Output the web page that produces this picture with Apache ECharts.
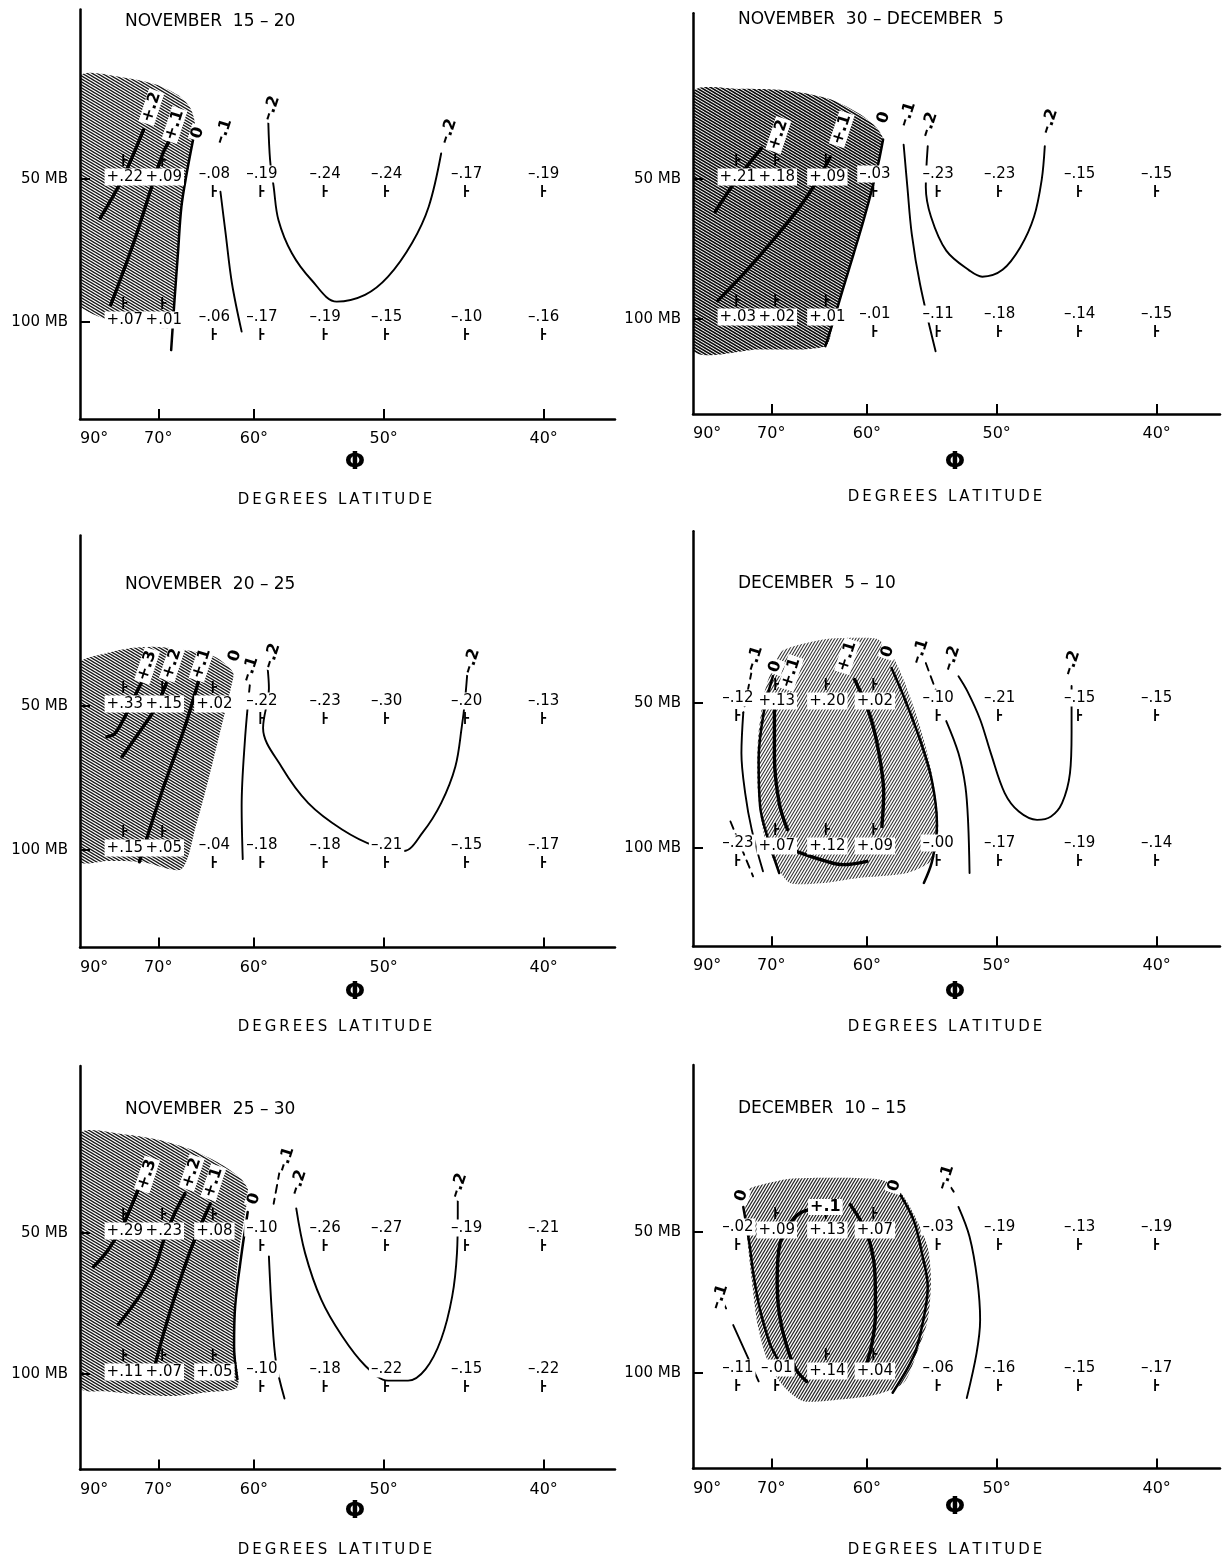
<!DOCTYPE html>
<html>
<head>
<meta charset="utf-8">
<script src="https://cdn.jsdelivr.net/npm/echarts@6/dist/echarts.min.js"></script>
<style>
  html, body { margin: 0; padding: 0; background: #fff; }
  #chart { width: 1229px; height: 1563px; }
</style>
</head>
<body>
<div id="chart"></div>
<script>
// ---- station grid ----------------------------------------------------------
const stationLat = [74.9, 69.3, 63.7, 59.3, 54.2, 49.8, 44.6, 40.0];
const levels = [50, 100];               // MB
const tickLat = [90, 70, 60, 50, 40];   // labelled latitudes

const titles = [
  'NOVEMBER  15 – 20',
  'NOVEMBER  30 – DECEMBER  5',
  'NOVEMBER  20 – 25',
  'DECEMBER  5 – 10',
  'NOVEMBER  25 – 30',
  'DECEMBER  10 – 15'
];

// ---- NOVEMBER 15-20 --------------------------------------------------------
const nov15At50  = [0.22, 0.09, -0.08, -0.19, -0.24, -0.24, -0.17, -0.19];
const nov15At100 = [0.07, 0.01, -0.06, -0.17, -0.19, -0.15, -0.10, -0.16];
const nov15Shade = [[90,30.5],[74.9,30.6],[70.1,31.7],[67.6,33.3],[66.25,35.3],[65.7,38.2],[65.9,41.3],[66.6,48.6],[67.2,57.2],[67.6,71.7],[68.0,89.9],[68.2,100],[68.8,103.1],[72.2,101.5],[78.1,99],[83.6,95.2],[90,92.1]];
const nov15Iso = [
  { lv: 0.2,  pts: [[79.9,60.5],[75.4,50.2],[72.0,39.4]] },
  { lv: 0.1,  pts: [[77.5,92.1],[73.5,68.3],[70.7,51],[69.4,44.1],[68.4,41]] },
  { lv: 0,    pts: [[65.9,41.3],[66.6,48.6],[67.2,57.2],[67.6,71.7],[68.0,89.9],[68.4,114.6]] },
  { lv: -0.1, pts: [[63.1,53.2],[62.6,65.1],[62.0,82.9],[61.1,104.8]] },
  { lv: -0.2, pts: [[58.75,38.1],[58.6,45.6],[58.3,51.9],[57.9,61.0],[56.8,71.7],[55.25,81.6],[53.35,90.6],[51.3,87.7],[49.7,80.3],[48.1,68.3],[47.0,57.2],[46.2,44.2]] }
];
const nov15IsoLabels = [
  { text: '+.2', at: [70.9,35.3] }, { text: '+.1', at: [68.0,38.5] }, { text: '0', at: [65.4,40.0] },
  { text: '–.1', at: [62.8,39.7] }, { text: '–.2', at: [58.5,35.5] }, { text: '–.2', at: [45.75,39.7] }
];

// ---- NOVEMBER 30 - DECEMBER 5 ---------------------------------------------
const nov30At50  = [0.21, 0.18, 0.09, -0.03, -0.23, -0.23, -0.15, -0.15];
const nov30At100 = [0.03, 0.02, 0.01, -0.01, -0.11, -0.18, -0.14, -0.15];
const nov30Shade = [[90,32.6],[74.6,32.0],[67.8,32.3],[63.4,33.7],[60.6,36.3],[59.15,38.8],[58.6,41.1],[59.0,46.2],[59.5,52],[60.3,61.4],[61.2,72.5],[62.15,85.6],[63.1,101],[63.9,114.4],[71.9,116.3],[90,116.3]];
const nov30Iso = [
  { lv: 0.2,  pts: [[79.4,58.8],[75.1,50.2],[71.3,42.9]] },
  { lv: 0.1,  pts: [[78.8,91.4],[74.0,80.1],[69.8,67.8],[66.6,57.4],[64.8,50.7],[63.4,44.8]] },
  { lv: 0,    pts: [[58.6,41.1],[59.0,46.2],[59.5,52],[60.3,61.4],[61.2,72.5],[62.15,85.6],[63.1,101],[63.9,114.4]] },
  { lv: -0.1, pts: [[56.9,42.2],[56.6,52],[56.25,65.6],[55.6,84.1],[54.4,117.3]] },
  { lv: -0.2, pts: [[55.0,42.5],[55.15,52],[54.75,60.3],[53.6,71.3],[51.9,78.7],[51.0,81.1],[49.6,78.4],[48.4,70.1],[47.5,60.3],[47.0,50.2],[46.8,42.5]] }
];
const nov30IsoLabels = [
  { text: '+.2', at: [69.1,40.2] }, { text: '+.1', at: [62.3,39.1] }, { text: '0', at: [58.55,36.9] },
  { text: '–.1', at: [56.6,36.3] }, { text: '–.2', at: [54.9,38.2] }, { text: '–.2', at: [46.5,37.6] }
];

// ---- NOVEMBER 20-25 --------------------------------------------------------
const nov20At50  = [0.33, 0.15, 0.02, -0.22, -0.23, -0.30, -0.20, -0.13];
const nov20At100 = [0.15, 0.05, -0.04, -0.18, -0.18, -0.21, -0.15, -0.17];
const nov20Shade = [[90,40.8],[79.5,39.0],[74.3,37.9],[70.4,37.6],[66.8,38.2],[63.6,39.5],[61.9,42.5],[62.0,44.9],[63.0,55.2],[64.3,71.3],[65.6,89.0],[67.2,109.7],[72.3,105.9],[78.1,105.4],[90,105.4]];
const nov20Iso = [
  { lv: 0.3,  pts: [[78.3,58.0],[76.7,57.1],[74.9,52.7],[73.0,46.8],[72.0,43.8]] },
  { lv: 0.2,  pts: [[75.4,63.9],[72.75,57.1],[70.4,50.6],[69.0,44.9]] },
  { lv: 0.1,  pts: [[72.6,105.9],[69.6,76.1],[66.8,55.2],[65.2,43.5]] },
  { lv: -0.1, pts: [[60.35,44.9],[60.8,58.9],[61.1,81.0],[61.0,104.5]] },
  { lv: -0.2, pts: [[58.8,41.9],[58.7,45.9],[59.2,55.6],[57.65,67.0],[55.5,79.8],[52.95,90.6],[50.6,98.1],[48.65,100.5],[47.4,92.0],[46.2,79.8],[45.3,66.9],[44.9,55.3],[44.7,48.7],[44.5,40.3]] }
];
const nov20IsoLabels = [
  { text: '+.3', at: [71.5,41.2] }, { text: '+.2', at: [68.3,40.8] }, { text: '+.1', at: [65.0,40.8] },
  { text: '0', at: [61.7,39.3] }, { text: '–.1', at: [60.35,41.9] }, { text: '–.2', at: [58.45,39.3] },
  { text: '–.2', at: [44.3,40.3] }
];

// ---- DECEMBER 5-10 ---------------------------------------------------------
const dec05At50  = [-0.12, 0.13, 0.20, 0.02, -0.10, -0.21, -0.15, -0.15];
const dec05At100 = [-0.23, 0.07, 0.12, 0.09, -0, -0.17, -0.19, -0.14];
const dec05Shade = [[68.5,38.8],[64.1,36.9],[60.9,36.6],[59.0,36.9],[57.8,40.0],[56.8,45.4],[55.6,55.9],[54.8,67.7],[54.3,81.9],[54.2,93.1],[54.6,105.7],[56.6,112.7],[60.9,115.5],[64.1,118.2],[67.7,118.2],[69.4,108.3],[70.9,94.6],[71.8,76.9],[71.8,59.6],[70.9,47.6],[69.6,41.3]];
const dec05Iso = [
  { lv: -0.1, pts: [[72.7,42.9],[74.0,52.4]], uncertain: true },
  { lv: -0.1, pts: [[74.0,52.4],[74.3,63.6],[73.7,76.9],[72.7,91.6],[71.1,111.8]] },
  { lv: -0.2, pts: [[76.2,88.1],[72.5,114.5]], uncertain: true },
  { lv: 0,    pts: [[69.8,44.0],[71.0,52.4],[71.7,65.6],[71.5,81.9],[70.4,96.1],[69.0,112.7]] },
  { lv: 0.1,  pts: [[69.6,51.6],[69.6,64.6],[69.0,80.7],[68.0,91.6]] },
  { lv: 0.1,  pts: [[61.1,44.7],[59.7,53.3],[58.9,64.6],[58.55,76.9],[58.7,90.2]] },
  { lv: 0.1,  pts: [[67.0,101.6],[64.1,106.1],[62.15,108.3],[60.0,106.6]] },
  { lv: 0,    pts: [[57.9,42.3],[56.9,48.4],[55.6,59.6],[54.7,72.1],[54.3,88.8],[54.35,94.6],[54.7,107.4],[55.3,118.2]] },
  { lv: -0.1, pts: [[55.15,41.3],[54.4,46.9]], uncertain: true },
  { lv: -0.1, pts: [[53.6,54.5],[52.7,63.6],[52.2,74.5],[52.0,88.8],[51.9,112.7]] },
  { lv: -0.2, pts: [[52.7,44.0],[52.05,47.3],[51.15,54.1],[50.4,63.6],[49.45,76.9],[48.5,84.0],[47.3,87.4],[46.4,86.0],[45.7,80.7],[45.2,69.9],[45.1,57.7],[45.1,46.1]] }
];
const dec05IsoLabels = [
  { text: '–.1', at: [72.3,40.4] }, { text: '0', at: [69.5,42.0] }, { text: '+.1', at: [67.6,43.3] },
  { text: '+.1', at: [61.8,40.0] }, { text: '0', at: [58.2,39.1] }, { text: '–.1', at: [55.6,39.1] },
  { text: '–.2', at: [53.2,40.4] }, { text: '–.2', at: [45.1,41.3] }
];

// ---- NOVEMBER 25-30 --------------------------------------------------------
const nov25At50  = [0.29, 0.23, 0.08, -0.10, -0.26, -0.27, -0.19, -0.21];
const nov25At100 = [0.11, 0.07, 0.05, -0.10, -0.18, -0.22, -0.15, -0.22];
const nov25Shade = [[90,30.8],[74.9,30.8],[70.0,31.6],[66.05,33.2],[63.3,35.4],[61.25,38.1],[60.5,40.6],[60.8,45.5],[61.4,56.1],[61.8,71.7],[61.7,90.0],[61.5,106.7],[64.3,109.3],[68.0,111.4],[72.3,110.7],[78.1,109],[90,106.7]];
const nov25Iso = [
  { lv: 0.3,  pts: [[81.7,59.0],[78.1,54.4],[75.4,48.6],[72.75,40.3]] },
  { lv: 0.2,  pts: [[76.05,78.4],[72.3,67.2],[70.4,59.0],[69.3,51.8],[68.0,45.5],[66.8,41.2]] },
  { lv: 0.1,  pts: [[70.9,102.5],[69.3,81.6],[67.6,65.1],[65.9,52.6],[64.1,43.3]] },
  { lv: 0,    pts: [[60.55,45.1],[61.1,55.2],[61.7,71.7],[61.8,87.2],[61.5,102.5]] },
  { lv: -0.1, pts: [[57.8,36.9],[58.3,43.3]], uncertain: true },
  { lv: -0.1, pts: [[58.7,56.1],[58.45,74.1],[58.1,94.5],[57.4,112.8]] },
  { lv: -0.2, pts: [[56.45,44.3],[55.75,55.2],[54.5,69.4],[52.95,83.0],[51.3,95.9],[49.7,103.3],[48.35,103.3],[47.2,97.6],[46.2,84.3],[45.5,68.3],[45.2,55.2],[45.15,45.5],[45.15,41.6]] }
];
const nov25IsoLabels = [
  { text: '+.3', at: [71.5,37.5] }, { text: '+.2', at: [66.05,37.2] }, { text: '+.1', at: [63.8,39.0] },
  { text: '0', at: [60.0,42.3] }, { text: '–.1', at: [57.3,34.8] }, { text: '–.2', at: [56.3,39.0] },
  { text: '–.2', at: [45.1,39.6] }
];

// ---- DECEMBER 10-15 --------------------------------------------------------
const dec10At50  = [-0.02, 0.09, 0.13, 0.07, -0.03, -0.19, -0.13, -0.19];
const dec10At100 = [-0.11, -0.01, 0.14, 0.04, -0.06, -0.16, -0.15, -0.17];
const dec10Shade = [[72.5,40.1],[67.7,38.5],[62.5,38.3],[58.55,38.8],[57.05,41.5],[55.85,47.2],[55.0,53.8],[54.75,63.3],[55.0,77.1],[55.85,90.7],[56.9,105.0],[59.15,111.1],[62.5,113.9],[66.2,114.9],[68.1,108.5],[70.2,96.8],[71.8,79.6],[72.7,63.3],[73.4,51.2],[73.7,45.0],[73.2,40.7]];
const dec10Iso = [
  { lv: 0,    pts: [[74.0,44.2],[73.05,52.9],[72.4,62.1],[71.5,73.3],[70.2,86.4],[69.25,93.0]] },
  { lv: 0.1,  pts: [[65.5,44.8],[66.6,45.6],[67.6,47.6],[68.9,52.9],[69.25,63.3],[69.0,74.5],[68.1,87.6],[67.0,98.4],[65.85,104.2]] },
  { lv: 0.1,  pts: [[61.5,43.7],[60.0,50.4],[59.3,61.2],[59.25,74.5],[59.6,87.6],[60.4,101.7]] },
  { lv: 0,    pts: [[57.2,41.5],[56.1,47.2],[55.45,55.5],[55.0,65.5],[55.45,79.6],[56.1,92.1],[57.8,110.2]] },
  { lv: -0.1, pts: [[79.1,66],[76.9,73.3]], uncertain: true },
  { lv: -0.1, pts: [[75.7,79],[71.7,104.2]] },
  { lv: -0.1, pts: [[53.8,37.9],[53.05,41.0]], uncertain: true },
  { lv: -0.1, pts: [[52.7,44.2],[51.9,51.2],[51.35,63.3],[51.15,77.1],[51.4,90.7],[52.1,113.1]] }
];
const dec10IsoLabels = [
  { text: '0', at: [74.3,41.8] }, { text: '+.1', at: [63.9,44.2], upright: true },
  { text: '0', at: [57.65,39.8] }, { text: '–.1', at: [78.4,68.8] }, { text: '–.1', at: [53.65,38.2] }
];

// ---- panels in page order ---------------------------------------------------
const panels = [
  { title: titles[0], v50: nov15At50, v100: nov15At100, shade: nov15Shade, iso: nov15Iso, isoLabels: nov15IsoLabels },
  { title: titles[1], v50: nov30At50, v100: nov30At100, shade: nov30Shade, iso: nov30Iso, isoLabels: nov30IsoLabels },
  { title: titles[2], v50: nov20At50, v100: nov20At100, shade: nov20Shade, iso: nov20Iso, isoLabels: nov20IsoLabels },
  { title: titles[3], v50: dec05At50, v100: dec05At100, shade: dec05Shade, iso: dec05Iso, isoLabels: dec05IsoLabels },
  { title: titles[4], v50: nov25At50, v100: nov25At100, shade: nov25Shade, iso: nov25Iso, isoLabels: nov25IsoLabels },
  { title: titles[5], v50: dec10At50, v100: dec10At100, shade: dec10Shade, iso: dec10Iso, isoLabels: dec10IsoLabels }
];

// ---- page layout -------------------------------------------------------------
const PX_PER_U = 1298;   // horizontal pixels per unit of (1 - sin latitude)
const layout = [
  { left: 80,  top: 9.6,    width: 535, height: 409.3, title: [125, 13],   phi: [355, 463],  dl: [335, 500] },
  { left: 693, top: 13.2,   width: 527, height: 400.7, title: [738, 11],   phi: [955, 463],  dl: [945, 497] },
  { left: 80,  top: 535.4,  width: 535, height: 412.2, title: [125, 576],  phi: [355, 993],  dl: [335, 1027] },
  { left: 693, top: 531.3,  width: 527, height: 415,   title: [738, 575],  phi: [955, 993],  dl: [945, 1027] },
  { left: 80,  top: 1066,   width: 535, height: 403.6, title: [125, 1101], phi: [355, 1512], dl: [335, 1550] },
  { left: 693, top: 1065,   width: 527, height: 403.6, title: [738, 1100], phi: [955, 1508], dl: [945, 1550] }
];
// hatching of each panel: direction, tile size, stroke width, ink
const hatching = [
  { dir: 'back', w: 5, h: 3, lw: 1.45, a: 0.9 },
  { dir: 'back', w: 5, h: 3, lw: 1.6,  a: 0.95 },
  { dir: 'back', w: 5, h: 3, lw: 1.45, a: 0.9 },
  { dir: 'fwd',  w: 3, h: 5, lw: 1.1,  a: 0.8 },
  { dir: 'back', w: 5, h: 3, lw: 1.45, a: 0.9 },
  { dir: 'fwd',  w: 3, h: 5, lw: 1.2,  a: 0.85 }
];

const FONT = 'DejaVu Sans';
const toU = lat => 1 - Math.sin(lat * Math.PI / 180);
const toLat = u => Math.round(Math.asin(Math.min(1, 1 - u)) * 180 / Math.PI);

function fmt(v) {
  const neg = v < 0 || Object.is(v, -0);
  const sign = v > 0 ? '+' : (neg ? '–' : '');
  return sign + '.' + String(Math.round(Math.abs(v) * 100)).padStart(2, '0');
}

// repeating diagonal line tile for the hatched (positive) region
function hatchTile(hs) {
  const c = document.createElement('canvas');
  c.width = hs.w; c.height = hs.h;
  const g = c.getContext('2d');
  g.strokeStyle = 'rgba(0,0,0,' + hs.a + ')';
  g.lineWidth = hs.lw;
  g.beginPath();
  for (let k = -2; k <= 2; k++) {
    const ox = k * hs.w;
    if (hs.dir === 'back') { g.moveTo(ox - hs.w, -hs.h); g.lineTo(ox + 2 * hs.w, 2 * hs.h); }
    else { g.moveTo(ox - hs.w, 2 * hs.h); g.lineTo(ox + 2 * hs.w, -hs.h); }
  }
  g.stroke();
  return c;
}

const series = [];
const graphic = [];
const CLEAR = { color: 'rgba(0,0,0,0)', opacity: 1 };

panels.forEach((p, i) => {
  const tile = hatchTile(hatching[i]);
  const shadePts = p.shade.map(d => [toU(d[0]), d[1]]);

  // hatched positive region
  series.push({
    type: 'custom', coordinateSystem: 'cartesian2d', xAxisIndex: i, yAxisIndex: i,
    data: shadePts, encode: { x: 0, y: 1 }, z: 1, silent: true, clip: true,
    renderItem: (params, api) => {
      if (params.dataIndex !== 0) return null;
      return {
        type: 'polygon',
        shape: { points: shadePts.map(q => api.coord(q)), smooth: 0.25 },
        style: { fill: { image: tile, repeat: 'repeat' }, stroke: null }
      };
    }
  });

  // isolines
  p.iso.forEach(line => {
    series.push({
      type: 'line', xAxisIndex: i, yAxisIndex: i, z: 2, silent: true,
      data: line.pts.map(d => [toU(d[0]), d[1]]),
      smooth: 0.35, symbol: 'none',
      lineStyle: {
        color: '#000', opacity: 1,
        width: line.lv > 0 ? 3.4 : (line.lv === 0 ? 2.5 : 1.9),
        type: line.uncertain ? [8, 6] : 'solid',
        cap: 'round'
      }
    });
  });

  // station observations
  const obs = [];
  levels.forEach((lev, k) => {
    const vals = k === 0 ? p.v50 : p.v100;
    vals.forEach((v, j) => obs.push([toU(stationLat[j]), lev, v]));
  });

  series.push({
    type: 'scatter', xAxisIndex: i, yAxisIndex: i, z: 3, silent: true,
    symbol: 'path://M0 0h1.7v12h-1.7z M1.7 5h3v1.7h-3z', symbolSize: [5, 12],
    itemStyle: { color: '#000', opacity: 1 },
    data: obs.map(o => ({ value: o, symbolOffset: [0, o[2] > 0 ? -19 : 12] }))
  });

  series.push({
    type: 'scatter', xAxisIndex: i, yAxisIndex: i, z: 5, silent: true,
    symbol: 'circle', symbolSize: 1, itemStyle: CLEAR,
    data: obs.map(o => ({
      value: o,
      label: { offset: [0, o[2] > 0 ? -2 : -5] }
    })),
    label: {
      show: true, position: 'inside', formatter: prm => fmt(prm.value[2]),
      fontFamily: FONT, fontSize: 15, color: '#000', opacity: 1,
      backgroundColor: '#fff', padding: [1, 2]
    }
  });

  // isoline value labels
  series.push({
    type: 'scatter', xAxisIndex: i, yAxisIndex: i, z: 6, silent: true,
    symbol: 'circle', symbolSize: 1, itemStyle: CLEAR,
    data: p.isoLabels.map(l => ({
      value: [toU(l.at[0]), l.at[1]],
      label: { formatter: l.text, rotate: l.upright ? 0 : 72 }
    })),
    label: {
      show: true, position: 'inside',
      fontFamily: FONT, fontSize: 16, fontWeight: 'bold', color: '#000', opacity: 1,
      backgroundColor: '#fff', padding: [0, 2]
    }
  });

  const L = layout[i];
  graphic.push({
    type: 'text', x: L.phi[0], y: L.phi[1], silent: true,
    style: { text: 'Φ', font: 'bold 24px "' + FONT + '"', fill: '#000', align: 'center', verticalAlign: 'middle' }
  });
  graphic.push({
    type: 'text', x: L.dl[0], y: L.dl[1], silent: true,
    style: { text: 'DEGREES LATITUDE'.split('').join('\u2009'), font: '15px "' + FONT + '"', fill: '#000', align: 'center', verticalAlign: 'middle' }
  });
});

const option = {
  animation: false,
  backgroundColor: '#fff',
  textStyle: { fontFamily: FONT },
  title: panels.map((p, i) => ({
    text: p.title, left: layout[i].title[0], top: layout[i].title[1], padding: 0,
    textStyle: { fontFamily: FONT, fontSize: 17, fontWeight: 'normal', color: '#000' }
  })),
  grid: layout.map(L => ({ left: L.left, top: L.top, width: L.width, height: L.height, containLabel: false })),
  xAxis: layout.map((L, i) => ({
    gridIndex: i, type: 'value', min: 0, max: L.width / PX_PER_U,
    splitLine: { show: false },
    axisLine: { onZero: false, lineStyle: { color: '#000', width: 2.5 } },
    axisTick: { inside: true, length: 10, customValues: tickLat.slice(1).map(toU), lineStyle: { color: '#000', width: 2 } },
    axisLabel: {
      customValues: tickLat.map(toU), formatter: v => toLat(v) + '°',
      fontFamily: FONT, fontSize: 16, color: '#000', margin: 12, alignMinLabel: 'left'
    }
  })),
  yAxis: layout.map((L, i) => ({
    gridIndex: i, type: 'log', logBase: 10, min: 22, max: 160, inverse: true,
    splitLine: { show: false }, minorTick: { show: false },
    axisLine: { onZero: false, lineStyle: { color: '#000', width: 2.5 } },
    axisTick: { inside: true, length: 10, customValues: levels, lineStyle: { color: '#000', width: 2 } },
    axisLabel: {
      customValues: levels, formatter: v => Math.round(v) + ' MB',
      fontFamily: FONT, fontSize: 15, color: '#000', margin: 12
    }
  })),
  graphic: graphic,
  series: series
};

const chart = echarts.init(document.getElementById('chart'), null, { renderer: 'canvas' });
chart.setOption(option);
</script>
</body>
</html>
